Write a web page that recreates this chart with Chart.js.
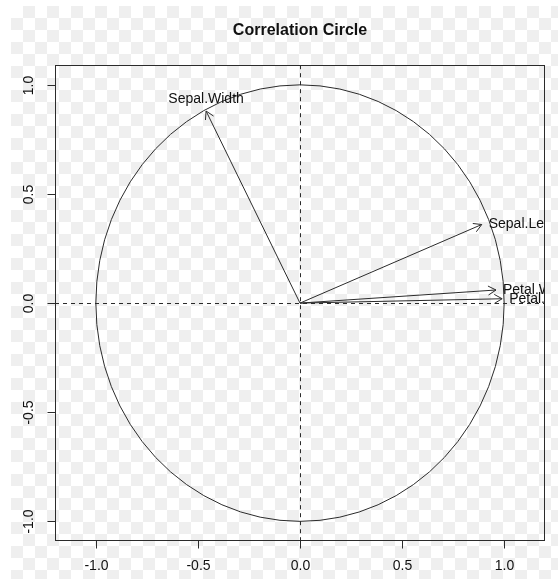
<!DOCTYPE html>
<html>
<head>
<meta charset="utf-8">
<title>Correlation Circle</title>
<script src="https://cdn.jsdelivr.net/npm/chart.js@4/dist/chart.umd.min.js"></script>
<style>
  html, body { margin: 0; padding: 0; background: #fff; }
  #wrap { position: relative; width: 558px; height: 582px; overflow: hidden; }
  #bg {
    position: absolute; left: 11px; top: 6px; right: 0; bottom: 3px;
    background-color: #fff;
    background-image:
      linear-gradient(45deg, #efefef 25%, transparent 25%, transparent 75%, #efefef 75%),
      linear-gradient(45deg, #efefef 25%, transparent 25%, transparent 75%, #efefef 75%);
    background-size: 24px 24px;
    background-position: 0 0, 12px 12px;
  }
  canvas { position: absolute; left: 0; top: 0; }
</style>
</head>
<body>
<div id="wrap">
  <div id="bg"></div>
  <canvas id="chart" width="558" height="582"></canvas>
</div>
<script>
// Variable loadings on the first two principal components
const variables = ['Sepal.Length', 'Sepal.Width', 'Petal.Length', 'Petal.Width'];
const dim1 = [0.89, -0.46, 0.99, 0.96];
const dim2 = [0.36, 0.88, 0.02, 0.06];

// Axis ticks
const xTicks = [-1.0, -0.5, 0.0, 0.5, 1.0];
const yTicks = [-1.0, -0.5, 0.0, 0.5, 1.0];

const FONT = '"Liberation Sans", Arial, Helvetica, sans-serif';
const INK = '#2b2b2b';

const datasets = variables.map((name, i) => ({
  label: name,
  data: [{ x: 0, y: 0 }, { x: dim1[i], y: dim2[i] }],
  showLine: true,
  borderColor: INK,
  borderWidth: 1,
  pointRadius: 0,
  fill: false
}));

const corrCircle = {
  id: 'corrCircle',
  beforeDatasetsDraw(chart) {
    const { ctx, chartArea: a, scales: { x, y } } = chart;
    const cx = x.getPixelForValue(0), cy = y.getPixelForValue(0);
    ctx.save();
    ctx.beginPath();
    ctx.rect(a.left, a.top, a.right - a.left, a.bottom - a.top);
    ctx.clip();
    // reference lines through the origin
    ctx.strokeStyle = INK;
    ctx.lineWidth = 1;
    ctx.setLineDash([4, 4]);
    ctx.beginPath();
    ctx.moveTo(a.left, Math.round(cy) + 0.5);
    ctx.lineTo(a.right, Math.round(cy) + 0.5);
    ctx.moveTo(Math.round(cx) + 0.5, a.top);
    ctx.lineTo(Math.round(cx) + 0.5, a.bottom);
    ctx.stroke();
    // unit circle
    ctx.setLineDash([]);
    const rx = x.getPixelForValue(1) - cx;
    const ry = cy - y.getPixelForValue(1);
    ctx.beginPath();
    ctx.ellipse(cx, cy, rx, ry, 0, 0, Math.PI * 2);
    ctx.stroke();
    ctx.restore();
  },
  afterDatasetsDraw(chart) {
    const { ctx, chartArea: a, scales: { x, y } } = chart;
    ctx.save();
    ctx.strokeStyle = INK;
    ctx.lineWidth = 1;

    // arrow heads and variable names
    ctx.save();
    ctx.beginPath();
    ctx.rect(a.left, a.top, a.right - a.left, a.bottom - a.top);
    ctx.clip();
    chart.data.datasets.forEach((ds, i) => {
      const pts = chart.getDatasetMeta(i).data;
      const p0 = pts[0], p1 = pts[1];
      const ang = Math.atan2(p1.y - p0.y, p1.x - p0.x);
      const len = 9, spread = Math.PI / 6;
      ctx.beginPath();
      ctx.moveTo(p1.x - len * Math.cos(ang - spread), p1.y - len * Math.sin(ang - spread));
      ctx.lineTo(p1.x, p1.y);
      ctx.lineTo(p1.x - len * Math.cos(ang + spread), p1.y - len * Math.sin(ang + spread));
      ctx.stroke();

      ctx.fillStyle = '#111';
      ctx.font = '14px ' + FONT;
      const vx = ds.data[1].x, vy = ds.data[1].y;
      if (vx > vy) {
        ctx.textAlign = 'left';
        ctx.textBaseline = 'middle';
        ctx.fillText(ds.label, p1.x + 7, p1.y);
      } else {
        ctx.textAlign = 'center';
        ctx.textBaseline = 'alphabetic';
        ctx.fillText(ds.label, p1.x, p1.y - 8);
      }
    });
    ctx.restore();

    // plot box
    const L = Math.round(a.left) + 0.5, R = Math.round(a.right) - 0.5;
    const T = Math.round(a.top) + 0.5, B = Math.round(a.bottom) - 0.5;
    ctx.strokeRect(L, T, R - L, B - T);

    // bottom axis
    ctx.fillStyle = '#111';
    ctx.font = '14px ' + FONT;
    ctx.textAlign = 'center';
    ctx.textBaseline = 'middle';
    xTicks.forEach(v => {
      const px = Math.round(x.getPixelForValue(v)) + 0.5;
      ctx.beginPath();
      ctx.moveTo(px, B);
      ctx.lineTo(px, B + 8);
      ctx.stroke();
      ctx.fillText(v.toFixed(1), px, B + 26);
    });

    // left axis, labels rotated
    yTicks.forEach(v => {
      const py = Math.round(y.getPixelForValue(v)) + 0.5;
      ctx.beginPath();
      ctx.moveTo(L, py);
      ctx.lineTo(L - 8, py);
      ctx.stroke();
      ctx.save();
      ctx.translate(L - 26, py);
      ctx.rotate(-Math.PI / 2);
      ctx.fillText(v.toFixed(1), 0, 0);
      ctx.restore();
    });
    ctx.restore();
  }
};

new Chart(document.getElementById('chart'), {
  type: 'scatter',
  data: { datasets },
  options: {
    responsive: false,
    animation: false,
    layout: { padding: { left: 55, right: 13, top: 0, bottom: 41 } },
    scales: {
      x: { type: 'linear', min: -1.2, max: 1.2, display: false },
      y: { type: 'linear', min: -1.09, max: 1.09, display: false }
    },
    plugins: {
      legend: { display: false },
      tooltip: { enabled: false },
      title: {
        display: true,
        text: 'Correlation Circle',
        color: '#111',
        font: { family: FONT, size: 16, weight: 'bold' },
        padding: { top: 21, bottom: 25 }
      }
    }
  },
  plugins: [corrCircle]
});
</script>
</body>
</html>
